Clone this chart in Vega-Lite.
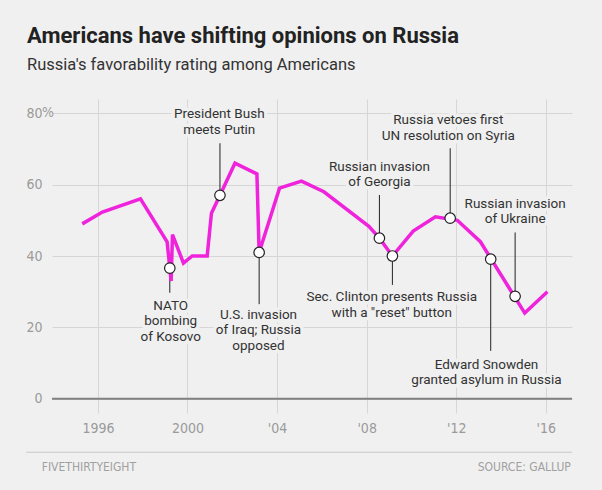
{
  "$schema": "https://vega.github.io/schema/vega-lite/v6.json",
  "width": 520,
  "height": 314,
  "autosize": {"type": "none"},
  "padding": {"left": 52, "top": 99, "right": 30, "bottom": 77},
  "background": "#f0f0f0",
  "title": {
    "text": "Americans have shifting opinions on Russia",
    "subtitle": "Russia's favorability rating among Americans",
    "anchor": "start",
    "frame": "group",
    "dx": -25,
    "offset": 25,
    "font": "Roboto",
    "fontSize": 22,
    "fontWeight": "bold",
    "color": "#222222",
    "subtitleFont": "Roboto",
    "subtitleFontSize": 16.5,
    "subtitleColor": "#333333",
    "subtitlePadding": 9
  },
  "config": {
    "view": {"stroke": null},
    "axis": {
      "domain": false,
      "ticks": false,
      "gridColor": "#d6d6d6",
      "gridWidth": 1,
      "labelFont": "Liberation Sans Narrow, DejaVu Sans Condensed, Roboto",
      "labelFontSize": 14,
      "labelColor": "#9a9a9a",
      "title": null
    }
  },
  "datasets": {
    "series": [
      {"year": 1995.3, "fav": 49},
      {"year": 1996.2, "fav": 52.3},
      {"year": 1997.9, "fav": 56},
      {"year": 1999.09, "fav": 44},
      {"year": 1999.27, "fav": 33},
      {"year": 1999.33, "fav": 46},
      {"year": 1999.82, "fav": 38},
      {"year": 2000.21, "fav": 40},
      {"year": 2000.88, "fav": 40},
      {"year": 2001.07, "fav": 52},
      {"year": 2001.45, "fav": 57},
      {"year": 2002.12, "fav": 66},
      {"year": 2003.1, "fav": 63},
      {"year": 2003.2, "fav": 41},
      {"year": 2004.11, "fav": 59},
      {"year": 2005.09, "fav": 61},
      {"year": 2006.09, "fav": 58},
      {"year": 2008.1, "fav": 48.3},
      {"year": 2008.57, "fav": 45},
      {"year": 2009.15, "fav": 40},
      {"year": 2010.08, "fav": 47},
      {"year": 2011.07, "fav": 51},
      {"year": 2012.05, "fav": 50},
      {"year": 2013.08, "fav": 44},
      {"year": 2015.06, "fav": 24},
      {"year": 2016.07, "fav": 30}
    ],
    "events": [
      {"label": "NATO\nbombing\nof Kosovo", "year": 1999.21, "fav": 36.6, "end": 29.7, "lyear": 1999.25, "lfav": 24.9},
      {"label": "President Bush\nmeets Putin", "year": 2001.45, "fav": 57, "end": 71.6, "lyear": 2001.42, "lfav": 78.6},
      {"label": "U.S. invasion\nof Iraq; Russia\nopposed", "year": 2003.2, "fav": 41, "end": 26.5, "lyear": 2003.17, "lfav": 22.4},
      {"label": "Russian invasion\nof Georgia", "year": 2008.57, "fav": 45, "end": 57.1, "lyear": 2008.57, "lfav": 63.9},
      {"label": "Sec. Clinton presents Russia\nwith a \"reset\" button", "year": 2009.15, "fav": 40, "end": 31.9, "lyear": 2009.12, "lfav": 27.3},
      {"label": "Russia vetoes first\nUN resolution on Syria", "year": 2011.73, "fav": 50.6, "end": 70.2, "lyear": 2011.65, "lfav": 77.0},
      {"label": "Edward Snowden\ngranted asylum in Russia", "year": 2013.54, "fav": 39.1, "end": 13.4, "lyear": 2013.35, "lfav": 8.4},
      {"label": "Russian invasion\nof Ukraine", "year": 2014.63, "fav": 28.7, "end": 46.6, "lyear": 2014.63, "lfav": 53.5}
    ],
    "footer": [
      {"text": "FIVETHIRTYEIGHT", "year": 1993.49, "side": "left"},
      {"text": "SOURCE: GALLUP", "year": 2017.12, "side": "right"}
    ]
  },
  "layer": [
    {
      "data": {"name": "series"},
      "mark": {"type": "line", "opacity": 0},
      "encoding": {
        "x": {
          "field": "year", "type": "quantitative",
          "scale": {"domain": [1993.95, 2017.17], "nice": false, "zero": false},
          "axis": {
            "values": [1996, 2000, 2004, 2008, 2012, 2016],
            "labelExpr": "datum.value <= 2000 ? toString(datum.value) : \"'\" + substring(toString(datum.value), 2, 4)",
            "labelPadding": 8,
            "grid": true
          }
        },
        "y": {
          "field": "fav", "type": "quantitative",
          "scale": {"domain": [-4, 84], "nice": false, "zero": false},
          "axis": {
            "values": [0, 20, 40, 60, 80],
            "labelPadding": 10,
            "grid": true
          }
        }
      }
    },
    {
      "data": {"values": [{"v": 0}]},
      "mark": {"type": "rule", "color": "#808080", "strokeWidth": 2},
      "encoding": {"y": {"field": "v", "type": "quantitative"}}
    },
    {
      "data": {"values": [{"t": "%", "year": 1993.95, "v": 80}]},
      "mark": {"type": "text", "align": "left", "baseline": "middle", "dx": -10, "font": "Liberation Sans Narrow, DejaVu Sans Condensed, Roboto", "fontSize": 14, "color": "#9a9a9a", "clip": false},
      "encoding": {
        "x": {"field": "year", "type": "quantitative"},
        "y": {"field": "v", "type": "quantitative"},
        "text": {"field": "t"}
      }
    },
    {
      "data": {"name": "events"},
      "mark": {"type": "rule", "color": "#222222", "strokeWidth": 1},
      "encoding": {
        "x": {"field": "year", "type": "quantitative"},
        "y": {"field": "fav", "type": "quantitative"},
        "y2": {"field": "end"}
      }
    },
    {
      "data": {"name": "events"},
      "mark": {"type": "text", "align": "center", "baseline": "alphabetic", "lineBreak": "\n", "lineHeight": 15.6, "font": "Roboto", "fontSize": 13.5, "stroke": "#f0f0f0", "strokeWidth": 7, "strokeJoin": "round", "color": "#f0f0f0"},
      "encoding": {
        "x": {"field": "lyear", "type": "quantitative"},
        "y": {"field": "lfav", "type": "quantitative"},
        "text": {"field": "label"}
      }
    },
    {
      "data": {"name": "events"},
      "mark": {"type": "text", "align": "center", "baseline": "alphabetic", "lineBreak": "\n", "lineHeight": 15.6, "font": "Roboto", "fontSize": 13.5, "color": "#333333"},
      "encoding": {
        "x": {"field": "lyear", "type": "quantitative"},
        "y": {"field": "lfav", "type": "quantitative"},
        "text": {"field": "label"}
      }
    },
    {
      "data": {"name": "series"},
      "mark": {"type": "line", "color": "#f023dc", "strokeWidth": 3.5, "strokeJoin": "miter"},
      "encoding": {
        "x": {"field": "year", "type": "quantitative"},
        "y": {"field": "fav", "type": "quantitative"}
      }
    },
    {
      "data": {"name": "events"},
      "mark": {"type": "point", "shape": "circle", "size": 110, "filled": true, "fill": "#ffffff", "stroke": "#222222", "strokeWidth": 1.2, "opacity": 1},
      "encoding": {
        "x": {"field": "year", "type": "quantitative"},
        "y": {"field": "fav", "type": "quantitative"}
      }
    },
    {
      "data": {"values": [{"a": 1992.8, "b": 2017.17, "v": -15}]},
      "mark": {"type": "rule", "color": "#c8c8c8", "strokeWidth": 1, "clip": false},
      "encoding": {
        "x": {"field": "a", "type": "quantitative"},
        "x2": {"field": "b"},
        "y": {"field": "v", "type": "quantitative"}
      }
    },
    {
      "data": {"name": "footer"},
      "transform": [{"filter": "datum.side == 'left'"}],
      "mark": {"type": "text", "align": "left", "baseline": "middle", "font": "Liberation Sans Narrow, DejaVu Sans Condensed, Roboto", "fontSize": 12, "color": "#a0a0a0", "clip": false},
      "encoding": {
        "x": {"field": "year", "type": "quantitative"},
        "y": {"datum": -19, "type": "quantitative"},
        "text": {"field": "text"}
      }
    },
    {
      "data": {"name": "footer"},
      "transform": [{"filter": "datum.side == 'right'"}],
      "mark": {"type": "text", "align": "right", "baseline": "middle", "font": "Liberation Sans Narrow, DejaVu Sans Condensed, Roboto", "fontSize": 12, "color": "#a0a0a0", "clip": false},
      "encoding": {
        "x": {"field": "year", "type": "quantitative"},
        "y": {"datum": -19, "type": "quantitative"},
        "text": {"field": "text"}
      }
    }
  ]
}
